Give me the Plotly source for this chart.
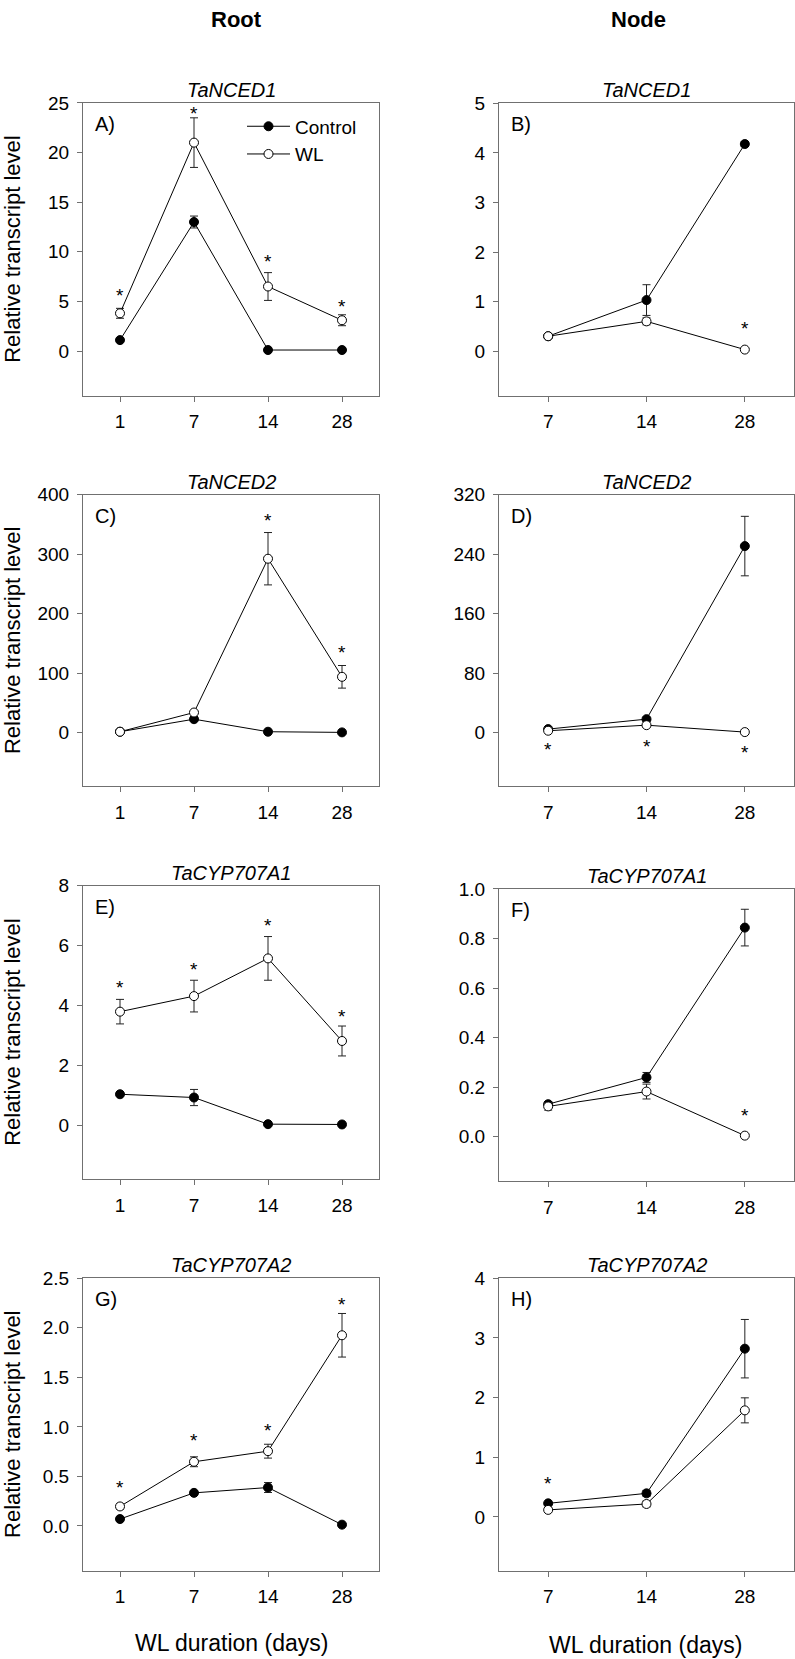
import plotly.graph_objects as go

# ---------------- data ----------------
days_root = ["1", "7", "14", "28"]
days_node = ["7", "14", "28"]

A_ctrl = [1.1, 13.0, 0.1, 0.1]
A_ctrl_err = [0.15, 0.6, 0.05, 0.05]
A_wl = [3.8, 21.0, 6.5, 3.1]
A_wl_err = [0.5, 2.5, 1.4, 0.55]
A_star_x = ["1", "7", "14", "28"]
A_star_y = [6.0, 24.3, 9.4, 4.9]

B_ctrl = [0.30, 1.03, 4.18]
B_ctrl_err = [0.02, 0.31, 0.05]
B_wl = [0.30, 0.60, 0.03]
B_wl_err = [0.02, 0.07, 0.02]
B_star_x = ["28"]
B_star_y = [0.53]

C_ctrl = [1.7, 22.8, 1.7, 0.6]
C_ctrl_err = [0.5, 3.0, 0.5, 0.3]
C_wl = [1.7, 34.0, 292.5, 94.0]
C_wl_err = [0.5, 3.0, 44.0, 19.0]
C_star_x = ["14", "28"]
C_star_y = [364, 141.5]

D_ctrl = [4.9, 18.3, 251.0]
D_ctrl_err = [1.0, 2.0, 40.0]
D_wl = [2.7, 10.2, 0.9]
D_wl_err = [0.5, 1.0, 0.3]
D_star_x = ["7", "14", "28"]
D_star_y = [-17.4, -12.9, -21.8]

E_ctrl = [1.03, 0.92, 0.03, 0.02]
E_ctrl_err = [0.05, 0.27, 0.02, 0.02]
E_wl = [3.79, 4.31, 5.57, 2.81]
E_wl_err = [0.41, 0.53, 0.73, 0.5]
E_star_x = ["1", "7", "14", "28"]
E_star_y = [4.74, 5.32, 6.81, 3.75]

F_ctrl = [0.131, 0.239, 0.844]
F_ctrl_err = [0.01, 0.02, 0.074]
F_wl = [0.122, 0.182, 0.004]
F_wl_err = [0.015, 0.03, 0.002]
F_star_x = ["28"]
F_star_y = [0.10]

G_ctrl = [0.07, 0.334, 0.388, 0.013]
G_ctrl_err = [0.01, 0.02, 0.05, 0.005]
G_wl = [0.197, 0.648, 0.755, 1.925]
G_wl_err = [0.03, 0.05, 0.07, 0.22]
G_star_x = ["1", "7", "14", "28"]
G_star_y = [0.43, 0.90, 1.0, 2.28]

H_ctrl = [0.227, 0.394, 2.82]
H_ctrl_err = [0.02, 0.05, 0.49]
H_wl = [0.117, 0.216, 1.786]
H_wl_err = [0.02, 0.05, 0.21]
H_star_x = ["7"]
H_star_y = [0.62]

genes = ["TaNCED1", "TaNCED1", "TaNCED2", "TaNCED2",
         "TaCYP707A1", "TaCYP707A1", "TaCYP707A2", "TaCYP707A2"]
letters = ["A)", "B)", "C)", "D)", "E)", "F)", "G)", "H)"]
col_titles = ["Root", "Node"]
y_title = "Relative transcript level"
x_title = "WL duration (days)"
series_names = ["Control", "WL"]

# ---------------- layout geometry (pixels) ----------------
W, H = 795, 1659
FONT = "Liberation Sans, Arial, sans-serif"
AXC = "#707070"

panels = [
    (83, 379, 93.5, 388, [-4.5, 25], 5, "", days_root, A_ctrl, A_ctrl_err, A_wl, A_wl_err, A_star_x, A_star_y),
    (499, 794, 94, 388, [-0.9, 5], 1, "", days_node, B_ctrl, B_ctrl_err, B_wl, B_wl_err, B_star_x, B_star_y),
    (83, 379, 487.7, 781, [-90, 400], 100, "", days_root, C_ctrl, C_ctrl_err, C_wl, C_wl_err, C_star_x, C_star_y),
    (499, 794, 487.7, 781, [-72, 320], 80, "", days_node, D_ctrl, D_ctrl_err, D_wl, D_wl_err, D_star_x, D_star_y),
    (83, 379, 881, 1176, [-1.8, 8], 2, "", days_root, E_ctrl, E_ctrl_err, E_wl, E_wl_err, E_star_x, E_star_y),
    (499, 794, 884.3, 1178.3, [-0.18, 1.0], 0.2, ".1f", days_node, F_ctrl, F_ctrl_err, F_wl, F_wl_err, F_star_x, F_star_y),
    (83, 379, 1276, 1570, [-0.45, 2.5], 0.5, ".1f", days_root, G_ctrl, G_ctrl_err, G_wl, G_wl_err, G_star_x, G_star_y),
    (499, 794, 1276, 1570, [-0.9, 4], 1, "", days_node, H_ctrl, H_ctrl_err, H_wl, H_wl_err, H_star_x, H_star_y),
]

fig = go.Figure()
annotations = []
layout_axes = {}

for i, (x0, x1, yt, yb, yr, dt, fmt, days, c, ce, w, we, sx, sy) in enumerate(panels):
    n = i + 1
    xa = "x" if n == 1 else f"x{n}"
    ya = "y" if n == 1 else f"y{n}"
    xkey = "xaxis" if n == 1 else f"xaxis{n}"
    ykey = "yaxis" if n == 1 else f"yaxis{n}"
    layout_axes[xkey] = dict(
        domain=[x0 / W, x1 / W], anchor=ya, type="category",
        categoryorder="array", categoryarray=days,
        range=[-0.5, len(days) - 0.5],
        showline=True, linecolor=AXC, linewidth=1, mirror=True,
        ticks="outside", ticklen=5, tickcolor=AXC, tickwidth=1,
        showgrid=False, zeroline=False,
        tickfont=dict(family=FONT, size=19, color="black"),
        ticklabelstandoff=4,
    )
    layout_axes[ykey] = dict(
        domain=[1 - yb / H, 1 - yt / H], anchor=xa,
        range=yr, tick0=0, dtick=dt, tickformat=fmt,
        showline=True, linecolor=AXC, linewidth=1, mirror=True,
        ticks="outside", ticklen=5, tickcolor=AXC, tickwidth=1,
        showgrid=False, zeroline=False,
        tickfont=dict(family=FONT, size=19, color="black"),
        ticklabelstandoff=4,
    )
    fig.add_trace(go.Scatter(
        x=days, y=c, xaxis=xa, yaxis=ya, mode="lines+markers",
        name=series_names[0], showlegend=(n == 1), legendgroup="c",
        line=dict(color="black", width=1),
        marker=dict(symbol="circle", size=9, color="black",
                    line=dict(color="black", width=1)),
        error_y=dict(type="data", array=ce, visible=True,
                     color="#222222", thickness=1, width=4),
    ))
    fig.add_trace(go.Scatter(
        x=days, y=w, xaxis=xa, yaxis=ya, mode="lines+markers",
        name=series_names[1], showlegend=(n == 1), legendgroup="w",
        line=dict(color="black", width=1),
        marker=dict(symbol="circle", size=9, color="white",
                    line=dict(color="black", width=1)),
        error_y=dict(type="data", array=we, visible=True,
                     color="#222222", thickness=1, width=4),
    ))
    annotations.append(dict(
        xref=f"{xa} domain", yref=f"{ya} domain", x=0.5, y=1,
        yanchor="bottom", xanchor="center", yshift=0, showarrow=False,
        text=f"<i>{genes[i]}</i>", font=dict(family=FONT, size=20, color="black")))
    annotations.append(dict(
        xref=f"{xa} domain", yref=f"{ya} domain", x=0, y=1,
        xanchor="left", yanchor="middle", xshift=10, yshift=-21, showarrow=False,
        text=letters[i], font=dict(family=FONT, size=20, color="black")))
    for sxx, syy in zip(sx, sy):
        annotations.append(dict(
            xref=xa, yref=ya, x=days.index(sxx), y=syy,
            xanchor="center", yanchor="middle",
            yshift=-4, showarrow=False, text="*",
            font=dict(family=FONT, size=19, color="black")))
    if x0 < 200:
        annotations.append(dict(
            xref="paper", yref="paper", x=12.5 / W, y=1 - (yt + yb) / 2 / H,
            xanchor="center", yanchor="middle", textangle=-90, showarrow=False,
            text=y_title, font=dict(family=FONT, size=22, color="black")))

annotations.append(dict(xref="paper", yref="paper", x=236 / W, y=1 - 10 / H,
                        xanchor="center", yanchor="middle", showarrow=False,
                        text=f"<b>{col_titles[0]}</b>", font=dict(family=FONT, size=22, color="black")))
annotations.append(dict(xref="paper", yref="paper", x=638 / W, y=1 - 10 / H,
                        xanchor="center", yanchor="middle", showarrow=False,
                        text=f"<b>{col_titles[1]}</b>", font=dict(family=FONT, size=22, color="black")))
annotations.append(dict(xref="paper", yref="paper", x=231 / W, y=1 - 1643 / H,
                        xanchor="center", yanchor="middle", showarrow=False,
                        text=x_title, font=dict(family=FONT, size=23, color="black")))
annotations.append(dict(xref="paper", yref="paper", x=645.7 / W, y=1 - 1645 / H,
                        xanchor="center", yanchor="middle", showarrow=False,
                        text=x_title, font=dict(family=FONT, size=23, color="black")))

fig.update_layout(
    width=W, height=H, margin=dict(l=0, r=0, t=0, b=0),
    paper_bgcolor="white", plot_bgcolor="white",
    showlegend=True,
    legend=dict(x=242 / W, y=1 - 98 / H, xanchor="left", yanchor="top",
                bgcolor="rgba(0,0,0,0)", borderwidth=0,
                font=dict(family=FONT, size=19, color="black"),
                tracegroupgap=0, itemsizing="trace", itemwidth=43),
    annotations=annotations,
    **layout_axes,
)

fig.write_html(
    "out.html",
    config={"displayModeBar": False},
    post_script="document.body.style.margin='0';document.body.style.padding='0';"
                "document.documentElement.style.overflow='hidden';",
)
